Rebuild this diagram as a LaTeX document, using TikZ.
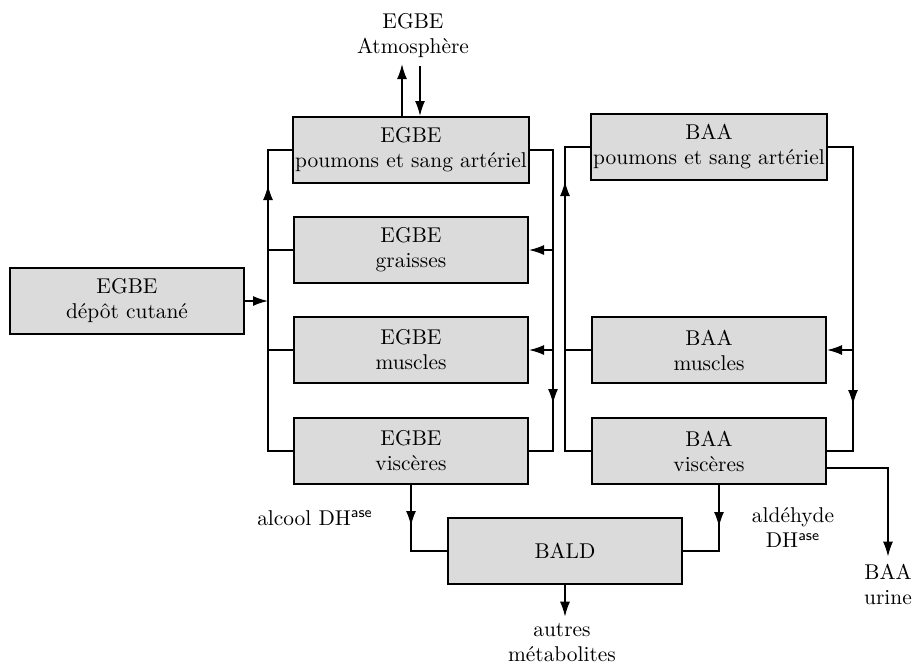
\documentclass[tikz,border=0pt]{standalone}
\usetikzlibrary{arrows.meta}
\begin{document}
\begin{tikzpicture}[x=0.5pt, y=-0.5pt,
    every node/.style={font=\fontsize{10.7}{12.5}\selectfont, align=center},
    compart/.style={draw, line width=1pt, fill=black!14, minimum width=117pt, minimum height=33pt, inner sep=1pt},
    conn/.style={line width=0.8pt},
    arr/.style={conn, -{Latex[length=7.5pt, width=5pt]}}]
    \useasboundingbox (0,0) rectangle (918,665);
    \node[compart] (cut) at (127,301) {EGBE\\dépôt cutané};
    \node[compart] (ep) at (411,150) {EGBE\\poumons et sang artériel};
    \node[compart] (eg) at (411,250) {EGBE\\graisses};
    \node[compart] (em) at (411,350) {EGBE\\muscles};
    \node[compart] (ev) at (411,451) {EGBE\\viscères};
    \node[compart] (bp) at (709,147) {BAA\\poumons et sang artériel};
    \node[compart] (bm) at (709,350) {BAA\\muscles};
    \node[compart] (bv) at (709,451) {BAA\\viscères};
    \node[compart] (bald) at (565,551) {BALD};
    \node (atm) at (413,36) {EGBE\\Atmosphère};
    \node (urine) at (888,584) {BAA\\urine};
    \node (autres) at (562,643) {autres\\métabolites};
    \node (alcool) at (315,518) {alcool DH\textsuperscript{\sffamily ase}};
    \node (aldeh) at (793,528) {aldéhyde\\DH\textsuperscript{\sffamily ase}};
    \coordinate (eUp) at (268,185);
    \coordinate (eDown) at (553,404);
    \coordinate (bUp) at (565,181);
    \coordinate (bDown) at (853,405);
    \coordinate (aTip) at (411,526);
    \coordinate (dTip) at (719,527);
    \coordinate (atmUp) at (402,64);
    \coordinate (atmDown) at (420,66);
    % EGBE
    \draw[arr] (ep.north -| atmUp) -- (atmUp);
    \draw[arr] (atmDown) -- (ep.north -| atmDown);
    \draw[arr] (cut.east) -- (cut.east -| eUp);
    \draw[conn] (ev.west) -| (eUp) |- (ep.west);
    \draw[arr] (eg.west -| eUp) -- (eUp);
    \draw[conn] (eg.west) -- (eg.west -| eUp);
    \draw[conn] (em.west) -- (em.west -| eUp);
    \draw[conn] (ep.east) -| (eDown) |- (ev.east);
    \draw[arr] (em.east -| eDown) -- (eDown);
    \draw[arr] (eg.east -| eDown) -- (eg.east);
    \draw[arr] (em.east -| eDown) -- (em.east);
    % BAA
    \draw[conn] (bv.west) -| (bUp) |- (bp.west);
    \draw[arr] (bm.west -| bUp) -- (bUp);
    \draw[conn] (bm.west) -- (bm.west -| bUp);
    \draw[conn] (bp.east) -| (bDown) |- (bv.east);
    \draw[arr] (bm.east -| bDown) -- (bDown);
    \draw[arr] (bm.east -| bDown) -- (bm.east);
    \draw[arr] ([yshift=-8.5pt]bv.east) -| (urine.north);
    % BALD
    \draw[conn] (ev.south) |- (bald.west);
    \draw[arr] (ev.south) -- (aTip);
    \draw[conn] (bv.south -| dTip) |- (bald.east);
    \draw[arr] (bv.south -| dTip) -- (dTip);
    \draw[arr] (bald.south) -- (bald.south |- autres.north);
\end{tikzpicture}
\end{document}
